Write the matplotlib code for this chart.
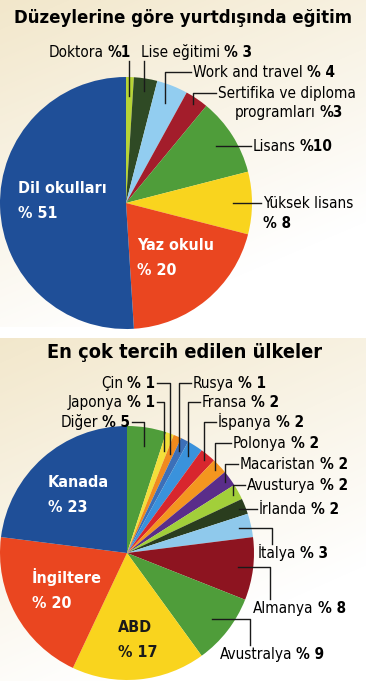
import numpy as np
import matplotlib.pyplot as plt

plt.rcParams['font.family'] = ['DejaVu Sans']
plt.rcParams['font.stretch'] = 'condensed'

W, H = 366, 681

# veriler - düzeylere göre
top_title = 'Düzeylerine göre yurtdışında eğitim'
top_labels = ['Doktora', 'Lise eğitimi', 'Work and travel',
              'Sertifika ve diploma\nprogramları', 'Lisans', 'Yüksek lisans',
              'Yaz okulu', 'Dil okulları']
top_values = [1, 3, 4, 3, 10, 8, 20, 51]
top_sep = ['', ' ', ' ', '', '', ' ', ' ', ' ']
top_colors = ['#b7d436', '#2f4a25', '#92cdf0', '#a31d2b', '#4f9d3a',
              '#f9d41e', '#ea4620', '#1f4f98']

# veriler - ülkeler
bot_title = 'En çok tercih edilen ülkeler'
bot_labels = ['Diğer', 'Japonya', 'Çin', 'Rusya', 'Fransa', 'İspanya',
              'Polonya', 'Macaristan', 'Avusturya', 'İrlanda', 'İtalya',
              'Almanya', 'Avustralya', 'ABD', 'İngiltere', 'Kanada']
bot_values = [5, 1, 1, 1, 2, 2, 2, 2, 2, 2, 3, 8, 9, 17, 20, 23]
bot_colors = ['#4f9d3a', '#f3df3a', '#f08a1e', '#3c6fb8', '#3a92dc',
              '#d8262e', '#f4961f', '#5a2d8a', '#a2cf3a', '#2a3d1e',
              '#8fc9ec', '#8d1420', '#4f9d3a', '#f9d41e', '#ea4620',
              '#1f4f98']

# yerleşim (piksel): pasta merkezleri / yarıçap
TOP_C, TOP_R = (126, 203), 126
BOT_C, BOT_R = (127, 553), 127

# etiket yerleşimi: stil, metin x, metin y, hizalama, yarıçap oranı, dirsek
top_layout = [
    ('v', 131, 52, 'right', 0.85, None),
    ('v', 141, 52, 'left', 0.9, None),
    ('hv', 193, 72, 'left', 0.85, None),
    ('hv', 218, 93, 'left', 0.95, None),
    ('h', 253, None, 'left', 0.85, None),
    ('h', 263, None, 'left', 0.85, None),
    ('in', 137, 245, 'left', None, None),
    ('in', 18, 188, 'left', None, None),
]
bot_layout = [
    ('hv', 130, 422, 'right', 0.85, None),
    ('hv', 155, 402, 'right', 0.85, None),
    ('hv', 155, 383, 'right', 0.85, None),
    ('hv', 193, 383, 'left', 0.9, None),
    ('hv', 202, 402, 'left', 0.9, None),
    ('hv', 218, 422, 'left', 0.95, None),
    ('hv', 233, 443, 'left', 0.95, None),
    ('hv', 240, 464, 'left', 0.95, None),
    ('hv', 247, 485, 'left', 0.95, None),
    ('h', 259, None, 'left', 0.95, None),
    ('down', 258, 553, 'left', 0.9, 272),
    ('down', 253, 608, 'left', 0.88, 270),
    ('down', 220, 654, 'left', 0.85, 250),
    ('in', 118, 627, 'left', None, None),
    ('in', 32, 578, 'left', None, None),
    ('in', 48, 482, 'left', None, None),
]

fig = plt.figure(figsize=(W / 100, H / 100), dpi=100)
renderer = fig.canvas.get_renderer()

# arka plan degrade
bg = fig.add_axes([0, 0, 1, 1], zorder=0)
yy, xx = np.mgrid[0:H, 0:W]
beige = np.array([0.94, 0.89, 0.76])
white = np.array([1.0, 1.0, 1.0])
ys = np.where(yy < 332, yy / 332.0, (yy - 332) / (H - 332.0))
t = np.clip(0.15 + 0.75 * ys + 0.35 * xx / W, 0, 1)
t = np.where((yy > 326) & (yy < 338), 1.0, t)
img = beige[None, None, :] * (1 - t[..., None]) + white[None, None, :] * t[..., None]
bg.imshow(img, aspect='auto', extent=[0, W, H, 0])
bg.set_xlim(0, W)
bg.set_ylim(H, 0)
bg.axis('off')

ov = fig.add_axes([0, 0, 1, 1], zorder=3)
ov.set_xlim(0, W)
ov.set_ylim(H, 0)
ov.axis('off')
ov.patch.set_visible(False)

FS = 11
FS_IN = 11.5
LC = '#1a1a1a'
BASE = 5   # merkezden taban çizgisine (piksel)
GAP = 4


def draw_pie(center, r, values, colors):
    cx, cy = center
    ax = fig.add_axes([(cx - r) / W, 1 - (cy + r) / H, 2 * r / W, 2 * r / H], zorder=2)
    ax.pie(values, colors=colors, startangle=90, counterclock=False,
           wedgeprops=dict(linewidth=0))
    ax.set_xlim(-1, 1)
    ax.set_ylim(-1, 1)
    v = np.array(values, dtype=float)
    mid = (np.cumsum(v) - v / 2) / v.sum() * 2 * np.pi
    return mid


def pct_text(v, sep):
    return '%' + sep + str(v)


def txt(x, y, s, **kw):
    kw.setdefault('fontsize', FS)
    kw.setdefault('color', 'black')
    return ov.text(x, y + BASE, s, va='baseline', **kw)


def width(t_):
    return t_.get_window_extent(renderer).width


def put_label(x, y, name, pct, ha='left'):
    if ha == 'left':
        t1 = txt(x, y, name, ha='left')
        txt(x + width(t1) + GAP, y, pct, ha='left', fontweight='bold')
    else:
        t2 = txt(x, y, pct, ha='right', fontweight='bold')
        txt(x - width(t2) - GAP, y, name, ha='right')


def draw_labels(center, r, mid, labels, values, seps, layout, inside_colors):
    cx, cy = center
    for i, (style, tx, ty, ha, frac, elb) in enumerate(layout):
        name = labels[i]
        pct = pct_text(values[i], seps[i])
        if style == 'in':
            c = inside_colors.get(i, 'white')
            txt(tx, ty, name, ha='left', fontsize=FS_IN, color=c, fontweight='bold')
            txt(tx, ty + 25, pct, ha='left', fontsize=FS_IN, color=c, fontweight='bold')
            continue
        ax_ = cx + r * frac * np.sin(mid[i])
        ay_ = cy - r * frac * np.cos(mid[i])
        if style == 'v':
            ov.plot([ax_, ax_], [ty + 9, ay_], color=LC, lw=1)
        elif style == 'hv':
            end = tx + (-2 if ha == 'left' else 2)
            ov.plot([end, ax_, ax_], [ty, ty, ay_], color=LC, lw=1)
        elif style == 'h':
            ty = ay_
            ov.plot([ax_, tx - 2], [ty, ty], color=LC, lw=1)
        elif style == 'down':
            ov.plot([ax_, elb, elb], [ay_, ay_, ty - 9], color=LC, lw=1)
        if '\n' in name:
            first, second = name.split('\n')
            txt(tx, ty, first, ha='left')
            put_label(tx + 17, ty + 19, second, pct, ha='left')
        elif name == 'Yüksek lisans':
            txt(tx, ty, name, ha='left')
            txt(tx, ty + 20, pct, ha='left', fontweight='bold')
        else:
            put_label(tx, ty, name, pct, ha=ha)


top_mid = draw_pie(TOP_C, TOP_R, top_values, top_colors)
bot_mid = draw_pie(BOT_C, BOT_R, bot_values, bot_colors)

bot_sep = [' '] * len(bot_values)
draw_labels(TOP_C, TOP_R, top_mid, top_labels, top_values, top_sep, top_layout, {})
draw_labels(BOT_C, BOT_R, bot_mid, bot_labels, bot_values, bot_sep, bot_layout,
            {13: '#1a1a1a'})

ov.text(W / 2, 18, top_title, ha='center', va='center', fontsize=13.3,
        fontweight='bold', color='black')
ov.text(185, 353, bot_title, ha='center', va='center', fontsize=14.3,
        fontweight='bold', color='black')

fig.savefig('out.png', dpi=100)
